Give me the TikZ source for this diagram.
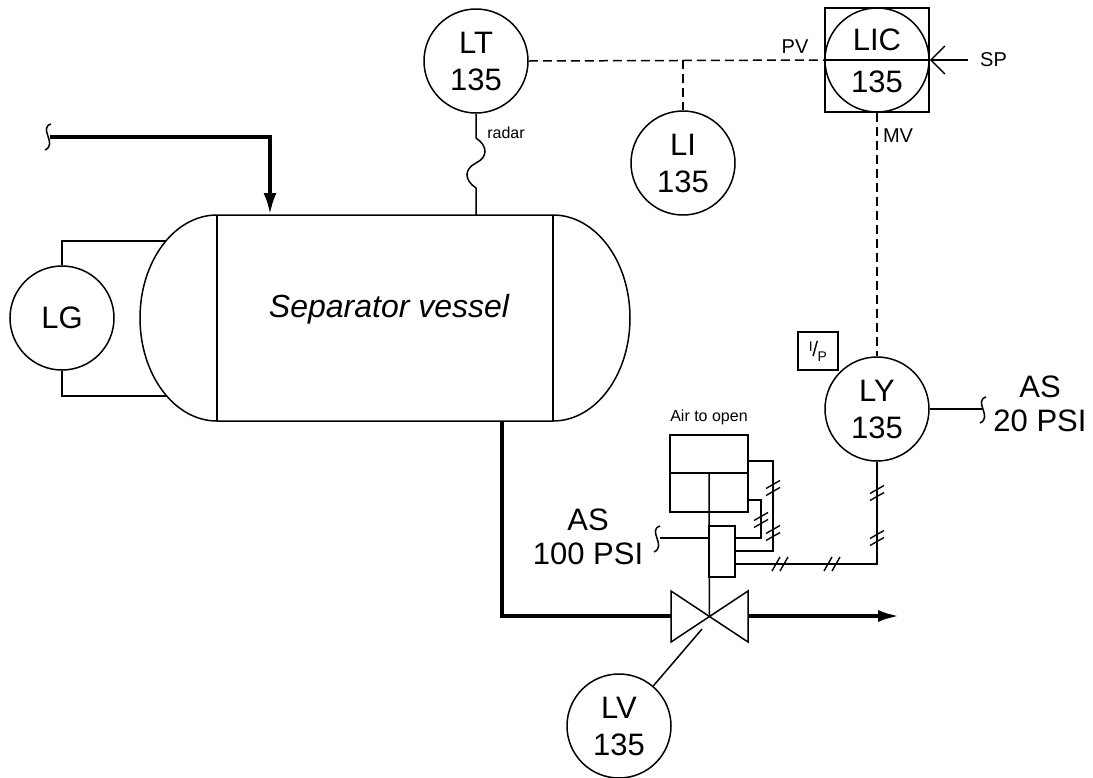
\documentclass[tikz,border=0pt]{standalone}
\usepackage{fontspec}
\setmainfont{Liberation Sans}
\usetikzlibrary{arrows.meta}
\newcommand\biglbl{\fontsize{31}{37}\selectfont}
\newcommand\midlbl{\fontsize{20}{22}\selectfont}
\newcommand\smalllbl{\fontsize{16}{18}\selectfont}
\tikzset{
  pipe/.style={line width=1.5pt},
  signal/.style={line width=1.5pt, dash pattern=on 9pt off 5pt},
  process/.style={line width=4pt},
  inst/.style={circle, draw, line width=1.5pt, minimum size=104pt, inner sep=0pt, align=center, font=\biglbl},
  txt/.style={inner sep=0pt, align=center},
  brk/.pic={\draw[line width=1.5pt] (3,-13) .. controls (-10,-9) and (10,7) .. (-3,13);},
  vhash/.pic={\draw[line width=1.4pt] (-7,0.5) -- (7,-7.5) (-7,7.5) -- (7,-0.5);},
  hhash/.pic={\draw[line width=1.4pt] (-8,7) -- (0,-7) (0,7) -- (8,-7);},
}
\begin{document}
\begin{tikzpicture}[x=1pt, y=-1pt]
\useasboundingbox (0,0) rectangle (1093,777);

% ---------- vessel ----------
\draw[pipe] (217,215) -- (553,215)
  arc[start angle=-90, end angle=90, x radius=77, y radius=103]
  -- (217,421)
  arc[start angle=90, end angle=270, x radius=77, y radius=103] -- cycle;
\draw[pipe] (217,215) -- (217,421);
\draw[pipe] (553,215) -- (553,421);
\node[anchor=base, inner sep=0pt, font=\fontsize{32}{37}\selectfont\itshape] (vtext) at (389,317) {Separator vessel};

% ---------- instruments ----------
\node[inst] (LT) at (476,61) {LT\\135};
\node[inst] (LI) at (683,163) {LI\\135};
\node[draw, line width=1.5pt, minimum size=104pt, inner sep=0pt] (LICbox) at (877,60) {};
\node[circle, draw, line width=1.5pt, minimum size=104pt, inner sep=0pt] (LIC) at (877,60) {};
\node[txt, font=\biglbl] (LICt) at (877,40) {LIC};
\node[txt, font=\biglbl] (LICn) at (877,82) {135};
\node[inst] (LY) at (877,409) {LY\\135};
\node[inst] (LV) at (619,726) {LV\\135};
\node[inst] (LG) at (62,318) {LG};

% ---------- signal lines ----------
\coordinate (tap) at (683,60);
\coordinate (SPin) at (968,60);
\draw[signal] (LT.east) -- (LICbox.west);
\draw[pipe] (LICbox.west) -- (LIC.east);
\draw[pipe, {Straight Barb[length=14pt,width=28pt]}-] (LIC.east) -- (SPin);
\draw[signal] (tap) -- (LI.north);
\draw[signal] (LICbox.south) -- (LY.north);

\node[txt, font=\midlbl] (PV) at (795,47) {PV};
\node[txt, font=\midlbl, anchor=west] (SP) at (980,60) {SP};
\node[txt, font=\midlbl] (MV) at (898,136) {MV};

% ---------- radar transmitter ----------
\coordinate (radarA) at (476,138);
\coordinate (radarB) at (476,188);
\coordinate (vtop) at (476,215);
\draw[pipe] (LT.south) -- (radarA)
  .. controls (488,146) and (488,157) .. (476,163)
  .. controls (464,169) and (464,180) .. (radarB) -- (vtop);
\node[txt, font=\smalllbl] (radar) at (506,133) {radar};

% ---------- sight glass ----------
\draw[pipe] (LG.north) -- (62,241) -- (166,241);
\draw[pipe] (LG.south) -- (62,396) -- (167,396);

% ---------- inlet ----------
\coordinate (inlet) at (50,137);
\coordinate (inletEnd) at (270,215);
\pic at (48,137) {brk};
\draw[process, -{Latex[length=22pt,width=13pt]}] (inlet) -- (270,137) -- (inletEnd);

% ---------- outlet and valve ----------
\coordinate (outlet) at (502,421);
\coordinate (valveL) at (671,616);
\coordinate (valveR) at (748,616);
\coordinate (valveC) at (709.5,616);
\coordinate (outEnd) at (900,616);
\draw[process] (outlet) -- (502,616) -- (valveL);
\draw[process, -{Latex[length=22pt,width=12pt]}] (valveR) -- (outEnd);
\draw[pipe, line join=miter] (671,591) -- (671,642) -- (748,591) -- (748,642) -- cycle;
\coordinate (lvEnd) at (702,629);
\draw[pipe] (LV) -- (lvEnd);

% ---------- actuator and positioner ----------
\node[draw, pipe, minimum width=78pt, minimum height=77pt, inner sep=0pt] (act) at (709,473.5) {};
\draw[pipe] (act.west |- 0,473) -- (act.east |- 0,473);
\draw[pipe] (709,473) -- (valveC);
\node[draw, pipe, fill=white, minimum width=26pt, minimum height=51pt, inner sep=0pt] (pos) at (722,551.5) {};
\node[txt, font=\smalllbl] (ato) at (709,417) {Air to open};

\draw[pipe] (act.east |- 0,461) -- (773,461) -- (773,551) -- (pos.east |- 0,551);
\draw[pipe] (act.east |- 0,500) -- (761,500) -- (761,538) -- (pos.east |- 0,538);
\draw[pipe] (pos.east |- 0,564) -- (877,564) -- (LY.south);
\pic at (773,488) {vhash};
\pic at (773,533) {vhash};
\pic at (761,520) {vhash};
\pic at (780,564) {hhash};
\pic at (832,564) {hhash};
\pic at (877,493) {vhash};
\pic at (877,538) {vhash};

% air supply to positioner
\coordinate (as100) at (660,538);
\pic at (657,539) {brk};
\draw[pipe] (as100) -- (pos.west |- 0,538);
\node[txt, font=\fontsize{31}{34}\selectfont] (AS100) at (588,537) {AS\\100 PSI};

% I/P transducer
\node[draw, pipe, minimum width=40pt, minimum height=38pt, inner sep=0pt] (IP) at (818,351)
  {\raisebox{5pt}{\fontsize{14}{14}\selectfont I}\kern-0.5pt{\fontsize{21}{21}\selectfont /}\kern-0.5pt\raisebox{-5pt}{\fontsize{14}{14}\selectfont P}};
\coordinate (as20) at (982,409);
\draw[pipe] (LY.east) -- (as20);
\pic at (983,410) {brk};
\node[txt, font=\fontsize{31}{34}\selectfont] (AS20) at (1040,404) {AS\\20 PSI};

\end{tikzpicture}
\end{document}
